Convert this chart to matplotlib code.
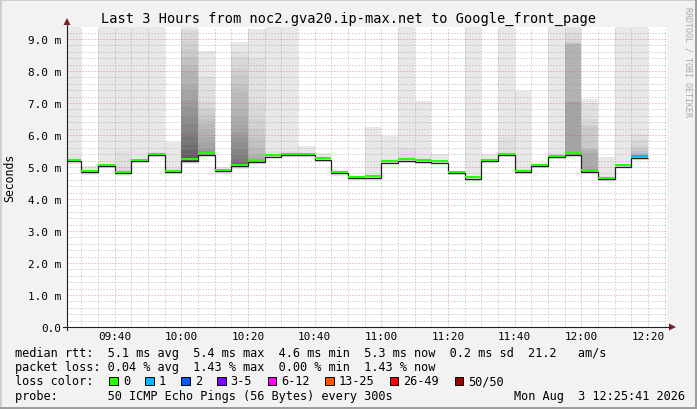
import matplotlib
matplotlib.use("Agg")
import matplotlib.pyplot as plt
import matplotlib.ticker as ticker
from matplotlib.patches import Rectangle, Polygon
import numpy as np

W, H = 697, 410
MONO = "DejaVu Sans Mono"

title = "Last 3 Hours from noc2.gva20.ip-max.net to Google_front_page"

# 5 minute buckets (start time), median rtt in ms, lost pings out of 50
bucket_times = ["09:25", "09:30", "09:35", "09:40", "09:45", "09:50", "09:55",
                "10:00", "10:05", "10:10", "10:15", "10:20", "10:25", "10:30",
                "10:35", "10:40", "10:45", "10:50", "10:55", "11:00", "11:05",
                "11:10", "11:15", "11:20", "11:25", "11:30", "11:35", "11:40",
                "11:45", "11:50", "11:55", "12:00", "12:05", "12:10", "12:15"]
median_ms = [5.18, 4.84, 5.02, 4.80, 5.18, 5.36, 4.84,
             5.19, 5.39, 4.86, 5.02, 5.17, 5.32, 5.36,
             5.36, 5.23, 4.80, 4.65, 4.66, 5.13, 5.20,
             5.16, 5.13, 4.80, 4.63, 5.18, 5.36, 4.84,
             5.02, 5.30, 5.38, 4.85, 4.61, 5.01, 5.29]
loss_pings = [0, 0, 0, 0, 0, 0, 0,
              0, 0, 0, 0, 0, 0, 0,
              0, 0, 0, 0, 0, 0, 0,
              0, 0, 0, 0, 0, 0, 0,
              0, 0, 0, 0, 0, 0, 1]

# smoke: pings above the median (highest first) and below it (lowest first), ms
# 10.0 stands for "off the top of the graph"
smoke_upper = [
    [10.0, 5.30, 5.25],
    [5.04, 4.92],
    [10.0, 5.08],
    [10.0, 5.50, 4.99, 4.90],
    [10.0, 5.26],
    [10.0, 5.48, 5.42],
    [5.77, 4.98, 4.92],
    [10.0, 9.30, 9.25, 8.95, 8.70, 8.43, 8.20, 8.00, 7.60, 7.40, 7.10, 6.87,
     6.60, 6.35, 6.05, 5.93, 5.70, 5.52, 5.40, 5.28],
    [8.62, 7.80, 7.07, 6.85, 6.66, 6.50, 6.35, 6.15, 5.93, 5.75, 5.60, 5.50],
    [5.00, 4.93],
    [8.92, 8.60, 8.43, 8.10, 7.86, 7.60, 7.34, 6.82, 6.60, 6.30, 6.10, 5.90,
     5.75, 5.57, 5.40, 5.25, 5.15],
    [9.32, 8.40, 7.00, 6.50, 6.20, 5.90, 5.60, 5.40, 5.30, 5.25],
    [10.0, 5.50, 5.40],
    [10.0, 5.50, 5.42],
    [5.67, 5.45],
    [5.44, 5.30],
    [4.90, 4.84],
    [4.72],
    [6.24, 4.72],
    [5.96, 5.25, 5.18],
    [10.0, 5.60, 5.30],
    [7.07, 5.30, 5.22],
    [5.41, 5.20],
    [4.88],
    [10.0, 4.72],
    [5.41, 5.25],
    [10.0, 5.94, 5.45],
    [7.38, 4.95, 4.90],
    [5.12],
    [10.0, 5.45, 5.38],
    [10.0, 9.60, 9.20, 8.90, 8.88, 8.86, 8.85, 8.84, 7.05, 7.02, 5.48, 5.45],
    [7.12, 7.00, 6.50, 6.30, 6.28, 5.56, 5.55, 5.50, 5.45, 4.92],
    [5.30, 4.72, 4.68],
    [10.0, 5.10, 5.07],
    [10.0, 6.03, 5.83, 5.70, 5.60, 5.50, 5.45, 5.40, 5.35],
]
smoke_lower = [
    [5.10], [4.76], [4.96], [4.72], [5.12], [5.30], [4.78],
    [5.08, 5.12, 5.15], [5.32, 5.35], [4.78, 4.82], [4.95, 4.98], [5.10, 5.13],
    [5.27], [5.30], [5.30], [5.15], [4.73], [4.58], [4.60], [5.08], [5.14],
    [5.10], [5.08], [4.74], [4.57], [5.12], [5.30], [4.78], [4.96], [5.25],
    [5.32], [4.80, 4.83], [4.57], [4.96], [5.22],
]

loss_labels = ["0", "1", "2", "3-5", "6-12", "13-25", "26-49", "50/50"]
loss_colors = ["#26ff00", "#00b8ff", "#0059ff", "#7e00ff",
               "#ff00ff", "#ff5500", "#ff0000", "#a10000"]
loss_upper = [0, 1, 2, 5, 12, 25, 49, 50]

rtt_avg, rtt_max, rtt_min, rtt_now, rtt_sd, rtt_ams = 5.1, 5.4, 4.6, 5.3, 0.2, 21.2
loss_avg, loss_max, loss_min, loss_now = 0.04, 1.43, 0.00, 1.43
probe_text = "50 ICMP Echo Pings (56 Bytes) every 300s"
stamp = "Mon Aug  3 12:25:41 2026"


def to_min(t):
    return int(t[:2]) * 60 + int(t[3:])


def loss_color(n):
    for up, c in zip(loss_upper, loss_colors):
        if n <= up:
            return c
    return loss_colors[-1]


def smoke_gray(rank):
    g = int(190 / 25 * (25 - rank)) + 50
    return "#%02x%02x%02x" % (g, g, g)


fig = plt.figure(figsize=(W / 100, H / 100), dpi=100, facecolor="#f2f2f2")
ax = fig.add_axes([67 / W, 1 - 328 / H, 600 / W, 300 / H])
ax.set_facecolor("white")
for s in ax.spines.values():
    s.set_visible(False)

starts = [to_min(t) for t in bucket_times]
t0 = to_min("09:25") + 41 / 60
ax.set_xlim(t0, t0 + 180)
ax.set_ylim(0, 9.375)
px = 9.375 / 300

# smoke, outer pings first so the inner (darker) ones paint over
for i, st in enumerate(starts):
    up, lo, med = smoke_upper[i], smoke_lower[i], median_ms[i]
    for k in range(max(len(up), len(lo))):
        hi = up[k] if k < len(up) else med
        bot = lo[k] if k < len(lo) else med
        ax.bar(st, hi - bot, bottom=bot, width=5, align="edge",
               color=smoke_gray(k + 1), linewidth=0, zorder=1)

# median line
edges = starts + [starts[-1] + 5]
ax.stairs(median_ms, edges, baseline=None, color="#202020", lw=0.9, zorder=3)
for i, st in enumerate(starts):
    ax.bar(st, 2 * px, bottom=median_ms[i] + 0.6 * px, width=5, align="edge",
           color=loss_color(loss_pings[i]), linewidth=0, zorder=4)

# grid
ax.xaxis.set_major_locator(ticker.FixedLocator(range(580, 741, 20)))
ax.xaxis.set_minor_locator(ticker.FixedLocator(range(570, 746, 5)))
ax.yaxis.set_major_locator(ticker.FixedLocator(range(0, 10)))
ax.yaxis.set_minor_locator(ticker.FixedLocator(np.arange(0, 9.4, 0.2)))
ax.xaxis.set_major_formatter(ticker.FuncFormatter(
    lambda v, p: "%02d:%02d" % (int(v) // 60, int(v) % 60)))
ax.yaxis.set_major_formatter(ticker.FuncFormatter(
    lambda v, p: "0.0" if v == 0 else "%.1f m" % v))
ax.grid(which="minor", color="#999999", alpha=0.7, linestyle=(0, (1, 2)), lw=0.72)
ax.grid(which="major", color="#e05050", alpha=0.6, linestyle=(0, (1, 2)), lw=0.72)
ax.set_axisbelow(False)
ax.tick_params(which="both", length=0)
ax.tick_params(axis="x", pad=3)
ax.tick_params(axis="y", pad=4.5)
for lab in ax.get_xticklabels() + ax.get_yticklabels():
    lab.set_fontfamily(MONO)
    lab.set_fontsize(7.9)

# overlay in pixel coordinates for frame, arrows and legend
ov = fig.add_axes([0, 0, 1, 1])
ov.set_xlim(0, W)
ov.set_ylim(H, 0)
ov.axis("off")

ov.add_patch(Rectangle((0, 0), W, 2, color="#cfcfcf", lw=0))
ov.add_patch(Rectangle((0, 0), 2, H, color="#cfcfcf", lw=0))
ov.add_patch(Rectangle((W - 2, 0), 2, H, color="#9e9e9e", lw=0))
ov.add_patch(Rectangle((0, H - 2), W, 2, color="#9e9e9e", lw=0))

ov.plot([67, 67], [331, 26], color="#1f1f1f", lw=0.8)
ov.plot([63, 670], [328, 328], color="#1f1f1f", lw=0.8)
ov.add_patch(Polygon([(63.5, 26), (70.5, 26), (67, 19)], color="#801f1f", lw=0))
ov.add_patch(Polygon([(669, 324.5), (669, 331.5), (676, 328)], color="#801f1f", lw=0))

ov.text(348.5, 19, title, ha="center", va="center", family=MONO, fontsize=9.8)
ov.text(10, 178, "Seconds", ha="center", va="center", rotation=90,
        family=MONO, fontsize=8.3)
ov.text(688, 62, "RRDTOOL / TOBI OETIKER", ha="center", va="center",
        rotation=270, family=MONO, fontsize=6, color="#a8a8a8")

cw = 7.19
lx = 15
fs = 8.6
row1 = "median rtt:  %.1f ms avg  %.1f ms max  %.1f ms min  %.1f ms now  %.1f ms sd  %.1f   am/s" % (
    rtt_avg, rtt_max, rtt_min, rtt_now, rtt_sd, rtt_ams)
row2 = "packet loss: %.2f %% avg  %.2f %% max  %.2f %% min  %.2f %% now" % (
    loss_avg, loss_max, loss_min, loss_now)
ov.text(lx, 354, row1, ha="left", va="center", family=MONO, fontsize=fs)
ov.text(lx, 368, row2, ha="left", va="center", family=MONO, fontsize=fs)
ov.text(lx, 382, "loss color:", ha="left", va="center", family=MONO, fontsize=fs)
bx = lx + 13 * cw
for lab, col in zip(loss_labels, loss_colors):
    ov.add_patch(Rectangle((bx + 1, 377.5), 8.5, 8.5, facecolor=col,
                           edgecolor="black", lw=0.7))
    ov.text(bx + 2 * cw, 382, lab, ha="left", va="center", family=MONO, fontsize=fs)
    bx += (len(lab) + 4) * cw
ov.text(lx, 397, "probe:       " + probe_text, ha="left", va="center",
        family=MONO, fontsize=fs)
ov.text(685, 397, stamp, ha="right", va="center", family=MONO, fontsize=fs)

fig.savefig("out.png", dpi=100, facecolor=fig.get_facecolor())
